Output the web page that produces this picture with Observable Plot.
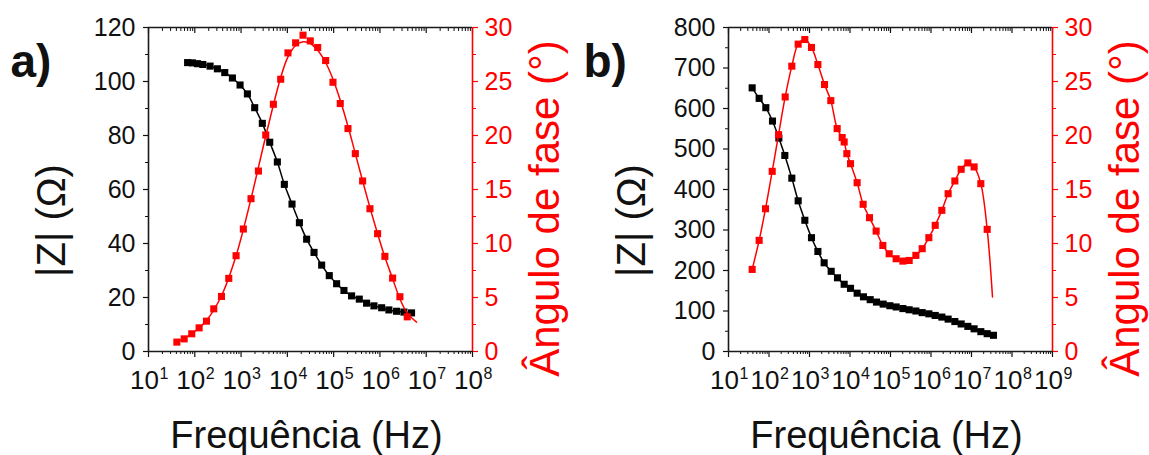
<!DOCTYPE html>
<html><head><meta charset="utf-8">
<script src="https://cdn.jsdelivr.net/npm/d3@7"></script>
<script src="https://cdn.jsdelivr.net/npm/@observablehq/plot@0.6"></script>
<style>
html,body{margin:0;padding:0;background:#fff;}
#wrap{position:relative;width:1149px;height:455px;overflow:hidden;background:#fff;}
#pa{position:absolute;left:0;top:0;}
#pb{position:absolute;left:580px;top:0;}
</style></head><body><div id="wrap"><div id="pa"></div><div id="pb"></div></div>
<script>
// ---------- Panel a data ----------
const zFreqA = [70, 89, 114, 149, 214, 308, 444, 650, 951, 1370, 1970, 2880, 4160, 6080, 8610, 12600, 18200, 26100, 37700, 55100, 80500, 116000, 167000, 244000, 358000, 515000, 743000, 1090000, 1560000, 2290000, 3300000, 4820000];
const zA = [107.0, 106.9, 106.6, 106.3, 105.7, 104.7, 103.3, 101.3, 98.7, 95.4, 90.3, 84.5, 77.5, 70.2, 61.9, 54.6, 47.7, 41.6, 36.7, 32.0, 28.1, 25.1, 22.6, 20.6, 19.4, 17.9, 16.9, 16.2, 15.4, 14.9, 14.6, 14.3];
const phFreqA = [41, 59, 86, 124, 179, 257, 377, 542, 780, 1120, 1640, 2370, 3410, 4990, 7180, 10300, 15100, 21800, 31300, 45200, 67200, 96800, 139000, 204000, 294000, 423000, 609000, 891000, 1280000, 1880000, 2700000, 3890000];
const phaseA = [0.87, 1.17, 1.64, 2.19, 2.81, 3.95, 5.10, 6.77, 8.87, 11.34, 14.15, 16.71, 20.05, 22.89, 25.21, 27.65, 28.58, 29.29, 28.76, 28.15, 26.94, 24.93, 22.96, 20.64, 18.32, 15.79, 13.22, 10.91, 8.81, 6.80, 5.07, 3.21];
// fitted phase curve (panel a)
const fitFreqA = [41, 86, 179, 377, 780, 1640, 3410, 7180, 10300, 15100, 21800, 31300, 45200, 67200, 96800, 139000, 204000, 294000, 423000, 609000, 891000, 1280000, 1880000, 2700000, 3890000, 6180000];
const fitPhaseA = [0.87, 1.64, 2.87, 5.16, 8.87, 14.15, 19.93, 25.37, 27.28, 28.33, 28.67, 28.52, 27.90, 26.76, 25.21, 23.26, 20.85, 18.32, 15.79, 13.32, 10.91, 8.74, 6.74, 4.88, 3.55, 2.72];

// ---------- Panel b data ----------
const zFreqB = [38.4, 57.1, 83.5, 122, 175, 246, 366, 525, 767, 1120, 1610, 2300, 3430, 4910, 7180, 10300, 15000, 21500, 31500, 45100, 65900, 96300, 138000, 202000, 289000, 423000, 606000, 885000, 1270000, 1850000, 2650000, 3880000, 5560000, 8120000, 11600000, 17000000, 24400000, 34900000];
const zB = [651, 625, 602, 569, 527, 484, 428, 372, 324, 281, 247, 219, 198, 182, 166, 156, 144, 135, 128, 122, 117, 113, 110, 106, 103, 100, 96, 93, 89, 85, 80, 74, 68, 62, 56, 49, 44, 40];
const phFreqB = [38.4, 57.1, 82, 120, 172, 251, 366, 525, 767, 1120, 1610, 2350, 3360, 4820, 6410, 7180, 8360, 10300, 15000, 21100, 30300, 44200, 64700, 92700, 138000, 202000, 289000, 423000, 606000, 885000, 1270000, 1850000, 2650000, 3880000, 5560000, 8120000, 11600000, 17000000, 24400000];
const phaseB = [7.60, 10.29, 13.22, 16.68, 20.08, 23.57, 26.42, 28.46, 28.89, 28.15, 26.57, 24.72, 23.23, 20.64, 19.81, 19.40, 18.32, 17.39, 15.63, 13.63, 12.39, 11.15, 9.82, 9.05, 8.59, 8.37, 8.43, 8.90, 9.52, 10.54, 11.68, 13.07, 14.61, 15.79, 16.87, 17.46, 17.09, 15.54, 11.31];
// end of the fitted phase curve beyond the last point (panel b)
const tailFreqB = [33000000];
const tailPhaseB = [5.04];

// ---------- Axes / labels ----------
const decadesA = [1e1, 1e2, 1e3, 1e4, 1e5, 1e6, 1e7, 1e8];
const expA = ["1", "2", "3", "4", "5", "6", "7", "8"];
const decadesB = [1e1, 1e2, 1e3, 1e4, 1e5, 1e6, 1e7, 1e8, 1e9];
const expB = ["1", "2", "3", "4", "5", "6", "7", "8", "9"];
const zTicksA = [0, 20, 40, 60, 80, 100, 120];
const zMinorA = [10, 30, 50, 70, 90, 110];
const zTicksB = [0, 100, 200, 300, 400, 500, 600, 700, 800];
const zMinorB = [50, 150, 250, 350, 450, 550, 650, 750];
const phTicks = [0, 5, 10, 15, 20, 25, 30];
const phMinor = [2.5, 7.5, 12.5, 17.5, 22.5, 27.5];
const xTitle = "Frequência (Hz)";
const zTitle = "|Z| (Ω)";
const phTitle = "Ângulo de fase (°)";

const FONT = "'Liberation Sans', Arial, Helvetica, sans-serif";

function makePanel(o) {
  const k = o.zMax / 30;
  const lo = Math.round(Math.log10(o.decades[0])), hi = Math.round(Math.log10(o.decades[o.decades.length - 1]));
  const minorX = [];
  for (let e = lo; e < hi; e++) for (let m = 2; m <= 9; m++) minorX.push(m * Math.pow(10, e));
  const zRows = o.zFreq.map((f, i) => ({f, v: o.z[i]}));
  const pRows = o.pFreq.map((f, i) => ({f, v: o.phase[i] * k}));
  const pLine = o.lineFreq.map((f, i) => ({f, v: o.linePhase[i] * k}));
  const noLab = () => "";
  return Plot.plot({
    width: o.width, height: 455,
    marginLeft: 148, marginRight: o.width - 472, marginTop: 27, marginBottom: 104,
    x: {type: "log", domain: [o.decades[0], o.decades[o.decades.length - 1]]},
    y: {domain: [0, o.zMax]},
    style: {fontFamily: FONT, background: "white", overflow: "visible", color: "#111"},
    marks: [
      Plot.axisX({anchor: "bottom", ticks: o.decades, tickSize: 6, tickFormat: noLab, label: null, strokeWidth: 1.2}),
      Plot.axisX({anchor: "bottom", ticks: minorX, tickSize: 3, tickFormat: noLab, label: null, strokeWidth: 1}),
      Plot.axisX({anchor: "top", ticks: o.decades, tickSize: -5, tickFormat: noLab, label: null, strokeWidth: 1.2}),
      Plot.axisX({anchor: "top", ticks: minorX, tickSize: -3, tickFormat: noLab, label: null, strokeWidth: 1}),
      Plot.axisY({anchor: "left", ticks: o.zTicks, tickSize: 5, tickPadding: 8, fontSize: 25, tickFormat: d => String(d), label: null, strokeWidth: 1.2}),
      Plot.axisY({anchor: "left", ticks: o.zMinor, tickSize: 3, tickFormat: noLab, label: null, strokeWidth: 1}),
      Plot.axisY({anchor: "right", ticks: phTicks.map(p => p * k), tickSize: 5, tickPadding: 7, fontSize: 25, color: "red", tickFormat: v => String(Math.round(v / k)), label: null, strokeWidth: 1.2}),
      Plot.axisY({anchor: "right", ticks: phMinor.map(p => p * k), tickSize: 3, color: "red", tickFormat: noLab, label: null, strokeWidth: 1}),
      Plot.ruleY([0, o.zMax], {stroke: "#1a1a1a", strokeWidth: 1.6}),
      Plot.ruleX([o.decades[0]], {stroke: "#1a1a1a", strokeWidth: 1.6}),
      Plot.ruleX([o.decades[o.decades.length - 1]], {stroke: "red", strokeWidth: 1.6}),
      // tick labels 10^n
      Plot.text(o.decades, {x: d => d, frameAnchor: "bottom", lineAnchor: "middle", text: () => "10", dy: 29, dx: -4, fontSize: 26, fill: "#111"}),
      Plot.text(o.decades, {x: d => d, frameAnchor: "bottom", lineAnchor: "middle", text: (d, i) => o.exps[i], dy: 22, dx: 15.5, fontSize: 16, fill: "#111"}),
      // titles
      Plot.text([xTitle], {frameAnchor: "bottom", lineAnchor: "middle", textAnchor: "middle", dy: 84, dx: -4, fontSize: 38, fill: "#111"}),
      Plot.text([zTitle], {frameAnchor: "left", lineAnchor: "middle", textAnchor: "middle", rotate: -90, dx: -96, dy: 31, fontSize: 40, fill: "#111"}),
      Plot.text([phTitle], {frameAnchor: "right", lineAnchor: "middle", textAnchor: "middle", rotate: -90, dx: 73, dy: 19, fontSize: 42, fill: "red"}),
      Plot.text([o.label], {frameAnchor: "top-left", lineAnchor: "top", textAnchor: "start", dx: o.labelDx, dy: 17, fontSize: 46, fontWeight: "bold", fill: "#111"}),
      // data
      Plot.line(zRows, {x: "f", y: "v", stroke: "black", strokeWidth: 1.5, curve: "catmull-rom"}),
      Plot.dot(zRows, {x: "f", y: "v", symbol: "square", r: 4, fill: "black", stroke: "none"}),
      Plot.line(pLine, {x: "f", y: "v", stroke: "red", strokeWidth: 1.5, curve: "catmull-rom"}),
      Plot.dot(pRows, {x: "f", y: "v", symbol: "square", r: 4, fill: "red", stroke: "none"})
    ]
  });
}

document.getElementById("pa").append(makePanel({
  width: 575, label: "a)", labelDx: -138, decades: decadesA, exps: expA, zMax: 120,
  zTicks: zTicksA, zMinor: zMinorA,
  zFreq: zFreqA, z: zA, pFreq: phFreqA, phase: phaseA,
  lineFreq: fitFreqA, linePhase: fitPhaseA
}));
document.getElementById("pb").append(makePanel({
  width: 569, label: "b)", labelDx: -145, decades: decadesB, exps: expB, zMax: 800,
  zTicks: zTicksB, zMinor: zMinorB,
  zFreq: zFreqB, z: zB, pFreq: phFreqB, phase: phaseB,
  lineFreq: phFreqB.concat(tailFreqB), linePhase: phaseB.concat(tailPhaseB)
}));
</script>
</body></html>
